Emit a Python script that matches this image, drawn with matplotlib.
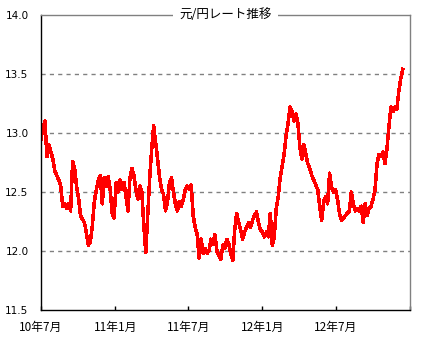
import matplotlib
matplotlib.use("Agg")
import matplotlib.pyplot as plt
import pandas as pd

# ---------------------------------------------------------------------------
# Data (roughly every 5 days)
# ---------------------------------------------------------------------------
START = "2010-07-01"
END = "2012-12-14"

rate = [
    12.95, 13.05, 13.10, 12.80, 12.90, 12.84, 12.78, 12.68, 12.64, 12.60,
    12.55, 12.38, 12.40, 12.36, 12.40, 12.34, 12.76, 12.70, 12.55, 12.45,
    12.30, 12.27, 12.24, 12.15, 12.05, 12.08, 12.22, 12.42, 12.52, 12.60,
    12.64, 12.40, 12.62, 12.55, 12.63, 12.52, 12.32, 12.28, 12.58, 12.50,
    12.60, 12.52, 12.58, 12.46, 12.34, 12.62, 12.70, 12.64, 12.52, 12.44,
    12.55, 12.50, 12.22, 11.99, 12.30, 12.62, 12.86, 13.06, 12.92, 12.78,
    12.62, 12.52, 12.48, 12.34, 12.42, 12.58, 12.62, 12.50, 12.40, 12.34,
    12.42, 12.38, 12.44, 12.52, 12.55, 12.52, 12.56, 12.30, 12.20, 12.14,
    11.94, 12.10, 11.98, 12.02, 11.98, 12.00, 12.10, 12.06, 12.14, 12.00,
    11.96, 11.93, 12.05, 12.02, 12.10, 12.06, 11.98, 11.92, 12.18, 12.32,
    12.24, 12.18, 12.10, 12.16, 12.20, 12.24, 12.20, 12.26, 12.30, 12.33,
    12.24, 12.18, 12.16, 12.12, 12.16, 12.12, 12.32, 12.05, 12.12, 12.36,
    12.46, 12.62, 12.72, 12.82, 12.98, 13.08, 13.22, 13.18, 13.10, 13.16,
    13.08, 12.88, 12.78, 12.90, 12.82, 12.74, 12.70, 12.64, 12.60, 12.56,
    12.52, 12.38, 12.26, 12.42, 12.46, 12.40, 12.66, 12.54, 12.50, 12.52,
    12.44, 12.32, 12.26, 12.28, 12.30, 12.32, 12.34, 12.50, 12.40, 12.34,
    12.36, 12.34, 12.38, 12.24, 12.40, 12.30, 12.36, 12.38, 12.44, 12.52,
    12.74, 12.82, 12.80, 12.84, 12.74, 12.86, 13.05, 13.22, 13.18, 13.22,
    13.20, 13.35, 13.46, 13.54,
]

tick_dates = ["2010-07-01", "2011-01-01", "2011-07-01", "2012-01-01",
              "2012-07-01", "2013-01-01"]
tick_labels = ["10年7月", "11年1月", "11年7月", "12年1月", "12年7月", ""]
y_ticks = [11.5, 12.0, 12.5, 13.0, 13.5, 14.0]
title = "元/円レート推移"

# ---------------------------------------------------------------------------
# Plot
# ---------------------------------------------------------------------------
dates = pd.date_range(START, END, periods=len(rate))

fig = plt.figure(figsize=(4.45, 3.44), dpi=100)
ax = fig.add_axes([0.0921, 0.0988, 0.8292, 0.8576])

# old-style bitmap chart: thick, non-antialiased red line
ax.plot(dates, rate, color="#FF0000", linewidth=1.8, antialiased=False)

ax.set_xlim(pd.Timestamp(tick_dates[0]), pd.Timestamp(tick_dates[-1]))
ax.set_ylim(y_ticks[0], y_ticks[-1])

ax.set_xticks([pd.Timestamp(d) for d in tick_dates])
ax.set_xticklabels(tick_labels, family=["Noto Sans CJK JP", "DejaVu Sans"],
                   fontsize=8.5)
ax.set_yticks(y_ticks)
ax.set_yticklabels([f"{v:.1f}" for v in y_ticks], fontsize=7.5)

ax.tick_params(axis="x", direction="in", length=3, width=1, pad=8,
               colors="black")
ax.tick_params(axis="y", length=0, pad=9)

for v in y_ticks[1:-1]:
    ax.axhline(v, color="#808080", linestyle=(0, (3, 3)), linewidth=1,
               zorder=0)

ax.spines["left"].set_color("black")
ax.spines["bottom"].set_color("black")
ax.spines["top"].set_color("#808080")
ax.spines["right"].set_color("#808080")
for s in ax.spines.values():
    s.set_linewidth(1)

ax.text(0.5, 1.0, title, transform=ax.transAxes, ha="center", va="center",
        fontsize=9, family=["Noto Sans CJK JP", "DejaVu Sans"],
        bbox=dict(boxstyle="square,pad=0.5", fc="white", ec="none"),
        zorder=5)

fig.savefig("out.png", dpi=100)
